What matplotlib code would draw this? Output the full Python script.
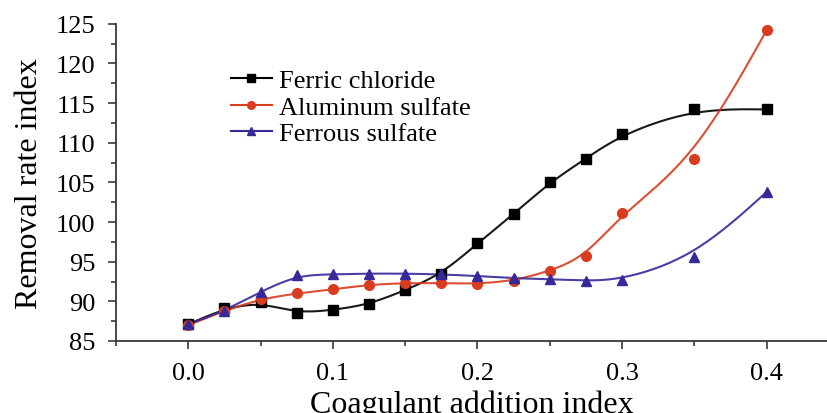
import numpy as np
from matplotlib import pyplot as plt
from matplotlib.ticker import MultipleLocator

# 混凝剂投加量
dose = [0.0, 0.025, 0.05, 0.075, 0.1, 0.125, 0.15, 0.175, 0.2, 0.225, 0.25, 0.275, 0.3, 0.35, 0.4]
ferric_chloride = [87.1, 89.1, 89.9, 88.5, 88.9, 89.6, 91.4, 93.4, 97.3, 101.0, 105.0, 108.0, 111.1, 114.3, 114.2]
aluminum_sulfate = [87.0, 88.8, 90.3, 91.0, 91.5, 92.1, 92.3, 92.3, 92.2, 92.6, 93.8, 95.7, 101.1, 108.0, 124.2]
ferrous_sulfate = [87.1, 88.8, 91.2, 93.3, 93.4, 93.5, 93.5, 93.4, 93.2, 92.9, 92.8, 92.6, 92.7, 95.6, 103.8]


def bspline(x, y, n=30):
    """均匀三次B样条(端点重复), 只用来画平滑连线"""
    P = np.column_stack([x, y]).astype(float)
    P = np.vstack([P[:1], P[:1], P, P[-1:], P[-1:]])
    t = np.linspace(0, 1, n)[:, None]
    b0 = (1 - t) ** 3 / 6
    b1 = (3 * t ** 3 - 6 * t ** 2 + 4) / 6
    b2 = (-3 * t ** 3 + 3 * t ** 2 + 3 * t + 1) / 6
    b3 = t ** 3 / 6
    segs = [b0 * P[i] + b1 * P[i + 1] + b2 * P[i + 2] + b3 * P[i + 3] for i in range(len(P) - 3)]
    out = np.vstack(segs)
    return out[:, 0], out[:, 1]


plt.rcParams['font.family'] = ['Liberation Serif', 'DejaVu Serif']

fig = plt.figure(figsize=(8.28, 4.14), dpi=100)
ax = fig.add_axes([0.140, 0.174, 0.86, 0.766])

series = [
    (ferric_chloride, 'Ferric chloride', 'black', 's', 6.5),
    (aluminum_sulfate, 'Aluminum sulfate', '#d93c1e', 'o', 7),
    (ferrous_sulfate, 'Ferrous sulfate', '#36299a', '^', 7.5),
]
for y, label, c, m, ms in series:
    xs, ys = bspline(dose, y)
    ax.plot(xs, ys, color=c, lw=1.5, zorder=2, alpha=0.9)
    ax.plot(dose, y, linestyle='none', marker=m, color=c, ms=ms, zorder=3)
    ax.plot([], [], color=c, lw=1.5, marker=m, ms=5.5, label=label)

ax.set_xlim(-0.05, 0.4424)
ax.set_ylim(85, 125)
ax.xaxis.set_major_locator(MultipleLocator(0.1))
ax.xaxis.set_minor_locator(MultipleLocator(0.05))
ax.yaxis.set_major_locator(MultipleLocator(5))
ax.yaxis.set_minor_locator(MultipleLocator(2.5))
ax.xaxis.set_major_formatter(plt.FuncFormatter(lambda v, p: '%.1f' % v))
ax.spines['top'].set_visible(False)
ax.spines['right'].set_visible(False)
for s in ['left', 'bottom']:
    ax.spines[s].set_color('#3a3a3a')
    ax.spines[s].set_linewidth(1.3)
ax.tick_params(which='major', direction='out', length=6, width=1.2, labelsize=19, color='#3a3a3a')
ax.tick_params(which='minor', direction='out', length=3.5, width=1.2, color='#3a3a3a')
ax.tick_params(axis='y', pad=9)
ax.tick_params(axis='x', pad=9)
ax.set_xlabel('Coagulant addition index', fontsize=23, labelpad=4)
ax.set_ylabel('Removal rate index', fontsize=23, labelpad=8)

fig.legend(loc='center left', bbox_to_anchor=(0.279, 0.739), frameon=False, fontsize=19,
           handlelength=1.55, handletextpad=0.25, labelspacing=0.12, borderpad=0,
           borderaxespad=0)

plt.savefig('out.png', dpi=100)
